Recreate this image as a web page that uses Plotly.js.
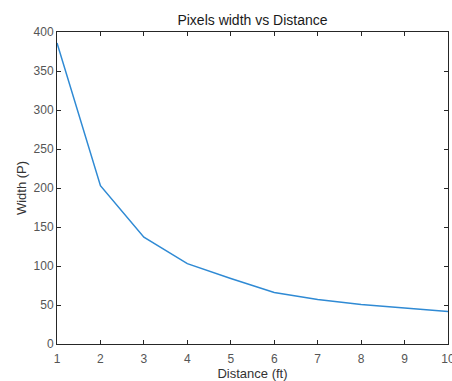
<!DOCTYPE html>
<html>
<head>
<meta charset="utf-8">
<script src="https://cdn.plot.ly/plotly-3.0.1.min.js"></script>
<style>html,body{margin:0;padding:0;background:#fff;}#chart{width:452px;height:381px;}</style>
</head>
<body>
<div id="chart"></div>
<script>
const distance = [1, 2, 3, 4, 5, 6, 7, 8, 9, 10];
const widthPx = [386, 203, 137, 103, 84, 66, 57, 50.6, 46, 41.7];
const xTicks = [1, 2, 3, 4, 5, 6, 7, 8, 9, 10];
const yTicks = [0, 50, 100, 150, 200, 250, 300, 350, 400];

const FONT = 'Liberation Sans, Arial, sans-serif';
const axisCommon = {
  showgrid: false, zeroline: false, showline: true, mirror: 'ticks',
  linecolor: '#262626', linewidth: 1, ticks: 'inside', ticklen: 4,
  tickcolor: '#262626', tickwidth: 1, ticklabeloverflow: 'allow',
  tickfont: {family: FONT, size: 12, color: '#555'}
};

Plotly.newPlot('chart', [{
  x: distance, y: widthPx, type: 'scatter', mode: 'lines',
  line: {color: '#2f8ad4', width: 1.5}, hoverinfo: 'skip', cliponaxis: true
}], {
  width: 452, height: 381,
  margin: {l: 57, r: 4, t: 32, b: 37},
  paper_bgcolor: '#fff', plot_bgcolor: '#fff',
  showlegend: false,
  title: {text: 'Pixels width vs Distance', xref: 'paper', x: 0.5, xanchor: 'center',
    yref: 'container', y: 0.947, yanchor: 'middle',
    font: {family: FONT, size: 14, color: '#1a1a1a'}},
  xaxis: Object.assign({}, axisCommon, {range: [1, 10], tickvals: xTicks, ticktext: xTicks.map(String),
    ticklabelstandoff: 4,
    title: {text: 'Distance (ft)', standoff: 11, font: {family: FONT, size: 13, color: '#333'}}}),
  yaxis: Object.assign({}, axisCommon, {range: [0, 400], tickvals: yTicks, ticktext: yTicks.map(String),
    title: {text: 'Width (P)', standoff: 4, font: {family: FONT, size: 13, color: '#333'}}})
}, {staticPlot: true});
</script>
</body>
</html>
